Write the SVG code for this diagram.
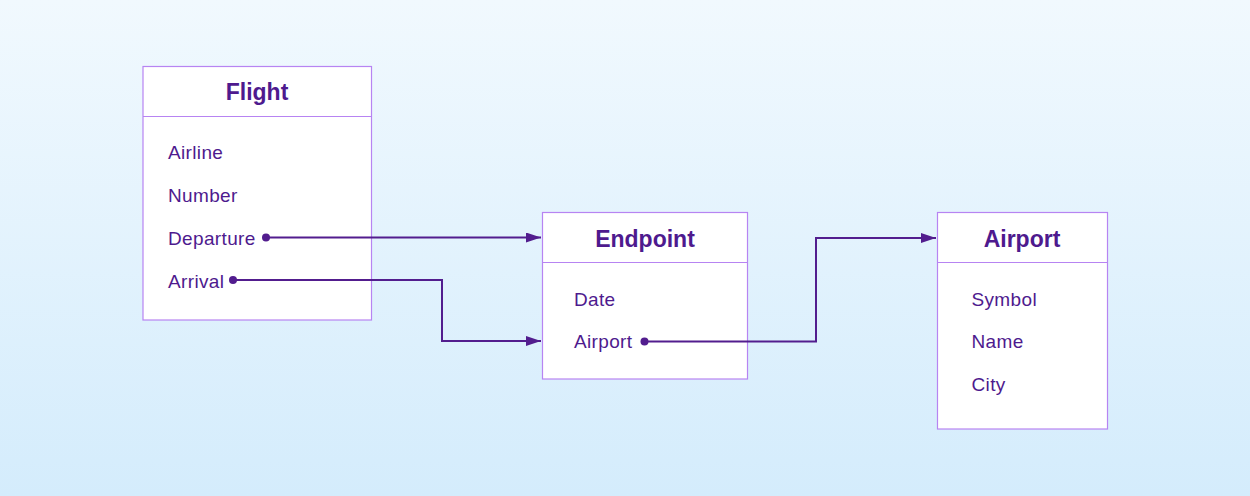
<svg xmlns="http://www.w3.org/2000/svg" width="1250" height="496" viewBox="0 0 1250 496">
<defs>
<linearGradient id="bg" x1="0" y1="0" x2="0" y2="1">
<stop offset="0" stop-color="#f1f9fe"/>
<stop offset="1" stop-color="#d4ecfc"/>
</linearGradient>
<marker id="arrow" markerWidth="16" markerHeight="10" refX="15" refY="5" orient="auto" markerUnits="userSpaceOnUse">
<path d="M0,0 L15,5 L0,10 Z" fill="#521d8e"/>
</marker>
<style>
.box{fill:#ffffff;stroke:#b784f2;stroke-width:1.2}
.div{stroke:#b784f2;stroke-width:1.2}
.title{font-family:"Liberation Sans",Arial,sans-serif;font-weight:bold;font-size:23px;fill:#4e1a8e;text-anchor:middle}
.field{font-family:"Liberation Sans",Arial,sans-serif;font-size:19px;letter-spacing:0.35px;fill:#4e1a8e}
.conn{fill:none;stroke:#521d8e;stroke-width:2}
.dot{fill:#521d8e}
</style>
</defs>
<rect width="1250" height="496" fill="url(#bg)"/>
<g id="flight">
<rect class="box" x="143" y="66.5" width="228.5" height="253.5"/>
<line class="div" x1="143" y1="116.5" x2="371.5" y2="116.5"/>
<text class="title" x="257" y="100">Flight</text>
<text class="field" x="168" y="158.5">Airline</text>
<text class="field" x="168" y="201.5">Number</text>
<text class="field" x="168" y="244.5">Departure</text>
<text class="field" x="168" y="287.5">Arrival</text>
</g>
<g id="endpoint">
<rect class="box" x="542.5" y="212.5" width="205" height="166.5"/>
<line class="div" x1="542.5" y1="262.5" x2="747.5" y2="262.5"/>
<text class="title" x="645" y="246.5">Endpoint</text>
<text class="field" x="574" y="305.5">Date</text>
<text class="field" x="574" y="348">Airport</text>
</g>
<g id="airport">
<rect class="box" x="937.5" y="212.5" width="170" height="216.5"/>
<line class="div" x1="937.5" y1="262.5" x2="1107.5" y2="262.5"/>
<text class="title" x="1022" y="246.5">Airport</text>
<text class="field" x="971.5" y="305.5">Symbol</text>
<text class="field" x="971.5" y="348">Name</text>
<text class="field" x="971.5" y="390.5">City</text>
</g>
<g id="connectors">
<circle class="dot" cx="266" cy="237.5" r="4"/>
<path class="conn" d="M266,237.5 H541" marker-end="url(#arrow)"/>
<circle class="dot" cx="233" cy="280" r="4"/>
<path class="conn" d="M233,280 H442 V341 H541" marker-end="url(#arrow)"/>
<circle class="dot" cx="644.5" cy="341.5" r="4"/>
<path class="conn" d="M644.5,341.5 H816 V238 H936" marker-end="url(#arrow)"/>
</g>
</svg>
